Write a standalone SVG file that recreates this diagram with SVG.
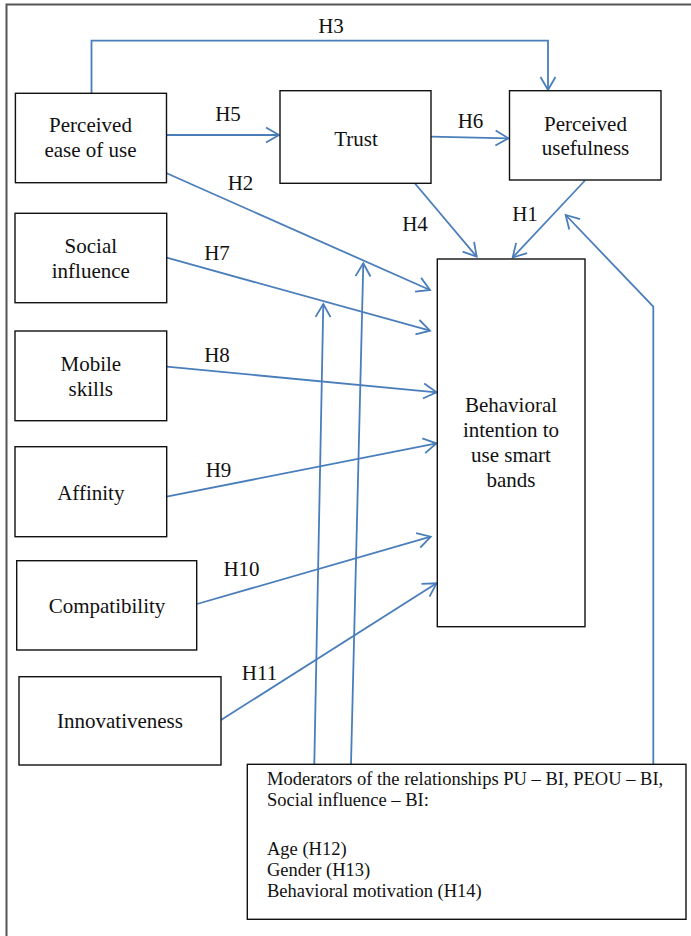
<svg xmlns="http://www.w3.org/2000/svg" width="691" height="936" viewBox="0 0 691 936" font-family="'Liberation Serif','Times New Roman',serif">
<style>
.box{fill:#fff;stroke:#111;stroke-width:1.4}
text{font-family:"Liberation Serif","Times New Roman",serif;fill:#111}
.lbl{font-size:21px;text-anchor:middle}
.h{font-size:21px;text-anchor:middle}
.mod{font-size:18.5px}
.c{fill:none;stroke:#4a7ebb;stroke-width:1.8;marker-end:url(#arr)}
</style>
<defs>
<marker id="arr" markerUnits="userSpaceOnUse" viewBox="-16 -10 18 20" markerWidth="18" markerHeight="20" refX="0" refY="0" orient="auto" overflow="visible">
<path d="M-13,-7.5 L0,0 L-13,7.5" fill="none" stroke="#4a7ebb" stroke-width="1.8"/>
</marker>
</defs>
<rect x="0" y="0" width="691" height="936" fill="#fff"/>
<path d="M6.5,940 V4.5 H700" fill="none" stroke="#555" stroke-width="2"/>

<g id="connectors">
<polyline class="c" points="91.5,93 91.5,40.7 548,40.7 548,90"/>
<line class="c" x1="166.5" y1="135" x2="279" y2="135"/>
<line class="c" x1="431" y1="136.7" x2="508.5" y2="138.3"/>
<line class="c" x1="415" y1="183.5" x2="476.7" y2="256.7"/>
<line class="c" x1="585" y1="180.5" x2="512.7" y2="257.5"/>
<line class="c" x1="166.7" y1="173.3" x2="430" y2="290"/>
<line class="c" x1="166.7" y1="257.7" x2="430" y2="330.7"/>
<line class="c" x1="166.7" y1="366.7" x2="436.5" y2="392.3"/>
<line class="c" x1="166.7" y1="496.7" x2="436.5" y2="443.3"/>
<line class="c" x1="197" y1="604" x2="430.7" y2="536.7"/>
<line class="c" x1="221" y1="720" x2="436.5" y2="583.3"/>
<line class="c" x1="314.3" y1="764" x2="323.3" y2="304"/>
<line class="c" x1="351" y1="764" x2="363.3" y2="263.3"/>
<polyline class="c" points="653.3,764 653.3,306.7 565.7,215"/>
<text class="h" x="331" y="33.3">H3</text>
<text class="h" x="228" y="120.7">H5</text>
<text class="h" x="470.5" y="127.7">H6</text>
<text class="h" x="240.5" y="190">H2</text>
<text class="h" x="415" y="231">H4</text>
<text class="h" x="525" y="221">H1</text>
<text class="h" x="217" y="260">H7</text>
<text class="h" x="217" y="362">H8</text>
<text class="h" x="218.5" y="476.7">H9</text>
<text class="h" x="241.5" y="576">H10</text>
<text class="h" x="259.5" y="680">H11</text>
</g>

<g id="peou">
<rect class="box" x="15.4" y="93.3" width="151.1" height="89.4"/>
<text class="lbl" x="90.5" y="131.7">Perceived</text>
<text class="lbl" x="90.5" y="156.7">ease of use</text>
</g>
<g id="trust">
<rect class="box" x="280" y="90.7" width="151" height="92.6"/>
<text class="lbl" x="356" y="146">Trust</text>
</g>
<g id="pu">
<rect class="box" x="509.5" y="90.7" width="151.5" height="89.3"/>
<text class="lbl" x="585.5" y="131">Perceived</text>
<text class="lbl" x="585.5" y="155">usefulness</text>
</g>
<g id="social">
<rect class="box" x="15" y="213.3" width="151.7" height="89.4"/>
<text class="lbl" x="90.8" y="252.7">Social</text>
<text class="lbl" x="90.8" y="277.7">influence</text>
</g>
<g id="mobile">
<rect class="box" x="15" y="331" width="151.7" height="89.7"/>
<text class="lbl" x="90.8" y="370.7">Mobile</text>
<text class="lbl" x="90.8" y="395.7">skills</text>
</g>
<g id="affinity">
<rect class="box" x="15" y="446.7" width="151.7" height="90"/>
<text class="lbl" x="90.8" y="500">Affinity</text>
</g>
<g id="compat">
<rect class="box" x="16.7" y="560.7" width="180" height="89.3"/>
<text class="lbl" x="107" y="612.7">Compatibility</text>
</g>
<g id="innov">
<rect class="box" x="19" y="676.7" width="202" height="88.3"/>
<text class="lbl" x="120" y="728.3">Innovativeness</text>
</g>
<g id="bi">
<rect class="box" x="437.3" y="259" width="147.7" height="367.7"/>
<text class="lbl" x="511" y="412.3">Behavioral</text>
<text class="lbl" x="511" y="437">intention to</text>
<text class="lbl" x="511" y="461.7">use smart</text>
<text class="lbl" x="511" y="486.7">bands</text>
</g>
<g id="moderators">
<rect class="box" x="247.3" y="764.3" width="438.7" height="155"/>
<text class="mod" x="267" y="785">Moderators of the relationships PU – BI, PEOU – BI,</text>
<text class="mod" x="267" y="806">Social influence – BI:</text>
<text class="mod" x="267" y="855">Age (H12)</text>
<text class="mod" x="267" y="876">Gender (H13)</text>
<text class="mod" x="267" y="897">Behavioral motivation (H14)</text>
</g>
</svg>
